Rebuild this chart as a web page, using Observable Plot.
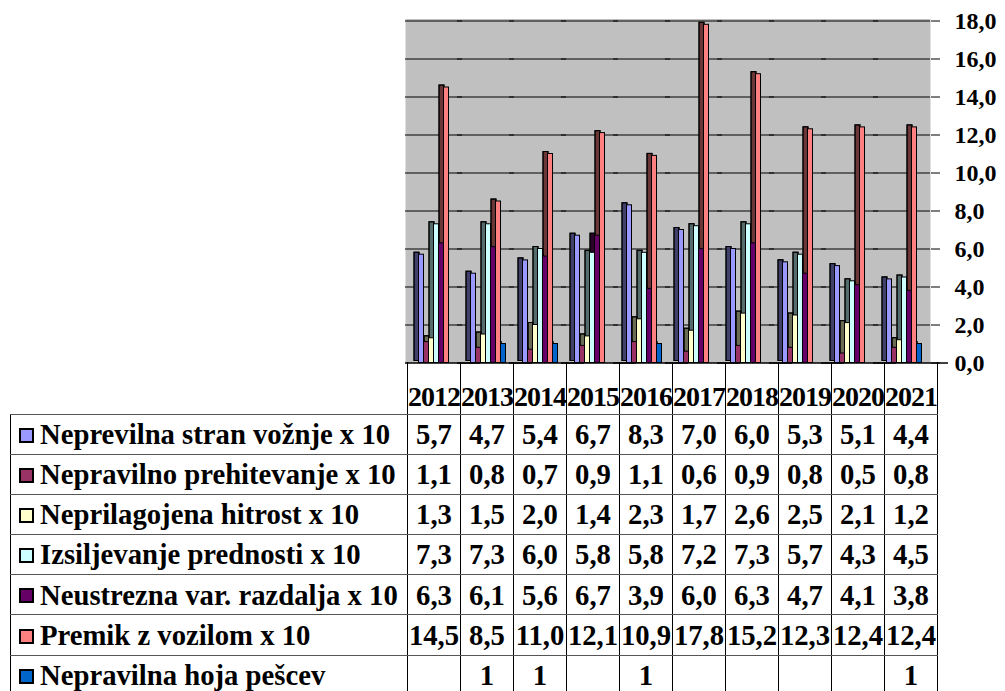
<!DOCTYPE html>
<html>
<head>
<meta charset="utf-8">
<script src="https://cdn.jsdelivr.net/npm/d3@7"></script>
<script src="https://cdn.jsdelivr.net/npm/@observablehq/plot@0.6"></script>
<style>
  html, body { margin: 0; padding: 0; background: #fff; overflow: hidden; }
  #wrap { position: relative; width: 1005px; height: 691px; overflow: hidden;
          font-family: "Liberation Serif", "Times New Roman", serif; font-weight: bold; color: #000; }
  #chart { position: absolute; left: 0; top: 0; }
  #chart svg, #chart svg text { font-family: "Liberation Serif", "Times New Roman", serif !important;
          font-weight: bold !important; font-size: 24px !important; }
  #tbl { position: absolute; left: 10px; top: 362px; border-collapse: collapse; table-layout: fixed;
         font-family: "Liberation Serif", "Times New Roman", serif; }
  #tbl td { padding: 0; height: 39.1px; font-size: 28.7px; line-height: 1; vertical-align: middle;
            font-family: "Liberation Serif", "Times New Roman", serif; font-weight: bold;
            text-align: center; white-space: nowrap; overflow: visible;
            border-top: 1px solid #555; border-bottom: 1px solid #555;
            border-left: 1px solid #000; border-right: 1px solid #000; }
  #tbl tr.head td { height: 49px; border-top: none; vertical-align: bottom; font-size: 28px;
                    letter-spacing: -1px; padding-bottom: 3px; }
  #tbl tr.head td.blank { border-left: none; border-top: none; }
  #tbl td.lab { text-align: left; padding-left: 8px; }
  .key { display: inline-block; width: 11px; height: 11px; border: 2px solid #000;
         margin-right: 6px; vertical-align: middle; position: relative; top: -2px; }
</style>
</head>
<body>
<div id="wrap">
  <div id="chart"></div>
  <table id="tbl"></table>
</div>
<script>
const years = ["2012","2013","2014","2015","2016","2017","2018","2019","2020","2021"];
const seriesNames = [
  "Neprevilna stran vožnje x 10",
  "Nepravilno prehitevanje x 10",
  "Neprilagojena hitrost x 10",
  "Izsiljevanje prednosti x 10",
  "Neustrezna var. razdalja x 10",
  "Premik z vozilom x 10",
  "Nepravilna hoja pešcev"
];
const stranVoznje   = [5.7, 4.7, 5.4, 6.7, 8.3, 7.0, 6.0, 5.3, 5.1, 4.4];
const prehitevanje  = [1.1, 0.8, 0.7, 0.9, 1.1, 0.6, 0.9, 0.8, 0.5, 0.8];
const hitrost       = [1.3, 1.5, 2.0, 1.4, 2.3, 1.7, 2.6, 2.5, 2.1, 1.2];
const izsiljevanje  = [7.3, 7.3, 6.0, 5.8, 5.8, 7.2, 7.3, 5.7, 4.3, 4.5];
const razdalja      = [6.3, 6.1, 5.6, 6.7, 3.9, 6.0, 6.3, 4.7, 4.1, 3.8];
const premik        = [14.5, 8.5, 11.0, 12.1, 10.9, 17.8, 15.2, 12.3, 12.4, 12.4];
const hojaPescev    = [null, 1, 1, null, 1, null, null, null, null, 1];
const yTicks = [0, 2, 4, 6, 8, 10, 12, 14, 16, 18];
const colors = ["#9999FF", "#993366", "#FFFFCC", "#CCFFFF", "#660066", "#FF8080", "#0066CC"];

const seriesValues = [stranVoznje, prehitevanje, hitrost, izsiljevanje, razdalja, premik, hojaPescev];
const rows = [];
years.forEach((yr, i) => {
  seriesNames.forEach((s, k) => {
    const v = seriesValues[k][i];
    if (v != null) rows.push({year: yr, series: s, value: v});
  });
});

const fmt1 = d => d.toFixed(1).replace(".", ",");

const chart = Plot.plot({
  width: 1005,
  height: 366,
  marginLeft: 407.5,
  marginRight: 72.5,
  marginTop: 20.5,
  marginBottom: 3.5,
  style: {fontFamily: "'Liberation Serif', 'Times New Roman', serif", fontSize: "24px", fontWeight: "bold",
          color: "#000", background: "transparent", overflow: "visible"},
  fx: {domain: years, paddingInner: 0, paddingOuter: 0, axis: null, label: null},
  x: {domain: seriesNames, paddingInner: 0, paddingOuter: 0.875, axis: null, label: null},
  y: {domain: [0, 18], axis: "right", ticks: yTicks, tickFormat: fmt1, tickSize: 9, tickPadding: 15, label: null},
  color: {domain: seriesNames, range: colors},
  marks: [
    Plot.frame({fill: "#c0c0c0", stroke: null, insetLeft: -5, insetTop: -2}),
    Plot.ruleY(yTicks.filter(d => d > 0), {stroke: "#000", strokeWidth: 1.2, insetLeft: -5}),
    // 3D side/back faces
    Plot.barY(rows, {fx: "year", x: "series", y: "value", fill: "series", dx: -4.5, dy: -2, stroke: "#000", strokeWidth: 1}),
    Plot.barY(rows, {fx: "year", x: "series", y: "value", fill: "#000", fillOpacity: 0.58, dx: -4.5, dy: -2, stroke: "#000", strokeWidth: 1}),
    // front faces
    Plot.barY(rows, {fx: "year", x: "series", y: "value", fill: "series", stroke: "#000", strokeWidth: 1}),
    Plot.ruleY([0], {stroke: "#000", strokeWidth: 1.3, insetLeft: -5, insetRight: -18})
  ]
});
document.getElementById("chart").appendChild(chart);

// Data table
const tbl = d3.select("#tbl");
const cg = tbl.append("colgroup");
cg.append("col").style("width", "397px");
years.forEach(() => cg.append("col").style("width", "52.5px"));
const head = tbl.append("tr").attr("class", "head");
head.append("td").attr("class", "blank");
years.forEach(y => head.append("td").text(y));
seriesNames.forEach((s, k) => {
  const tr = tbl.append("tr");
  const lab = tr.append("td").attr("class", "lab");
  lab.append("span").attr("class", "key").style("background", colors[k]);
  lab.append("span").text(s);
  seriesValues[k].forEach(v => {
    tr.append("td").text(v == null ? "" : (k === 6 ? String(v) : fmt1(v)));
  });
});
</script>
</body>
</html>
